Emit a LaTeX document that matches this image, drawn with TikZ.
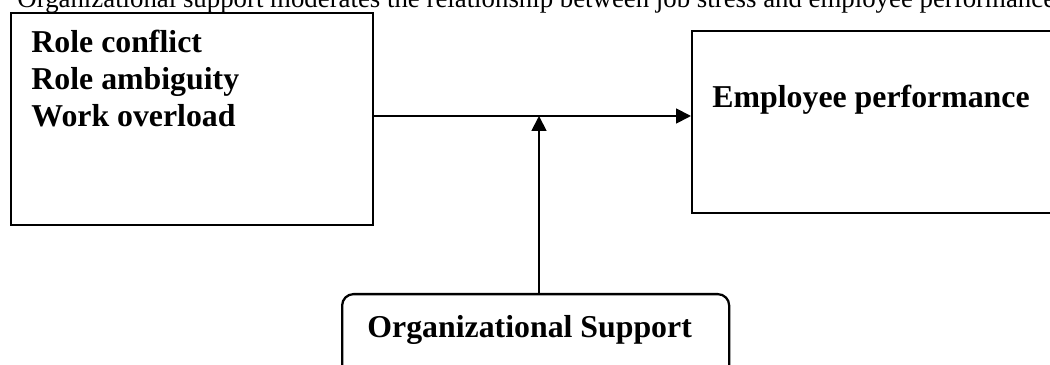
\documentclass[tikz,border=0pt]{standalone}
\usepackage{fontspec}
\setmainfont{Liberation Serif}
\usetikzlibrary{positioning, arrows.meta}

\begin{document}
\begin{tikzpicture}[
            x=0.44pt, y=-0.44pt,
            box/.style = {draw, line width=1pt, inner sep=0pt, anchor=north west},
            modbox/.style = {box, rounded corners=5pt},
            lbl/.style = {inner sep=0pt, anchor=base west, align=left,
                          font=\fontsize{14}{16.3}\selectfont\bfseries},
            line/.style = {draw, line width=0.8pt, -{Triangle[length=6.5pt, width=6.5pt]}},
            ]
            \clip (0,0) rectangle (1050,365);
            \node[inner sep=0pt, anchor=base west, font=\fontsize{11.8}{14}\selectfont] (title) at (17,8)
                {Organizational support moderates the relationship between job stress and employee performance.};

            \node[box, minimum width=159.3pt, minimum height=93.3pt] (stress) at (10,12) {};
            \node[box, minimum width=162.4pt, minimum height=80.1pt] (perf) at (691,30) {};
            \node[modbox, minimum width=170.3pt, minimum height=39.6pt] (support) at (341,293) {};

            % base anchor of a multi-line node sits on its last line
            \node[lbl] (stressTxt) at (31,127) {Role conflict\\Role ambiguity\\Work overload};
            \node[lbl] (perfTxt) at (712,108) {Employee performance};
            \node[lbl] (supportTxt) at (367,337) {Organizational Support};

            \coordinate (mid) at (539,116);
            \draw[line] (stress.east |- mid) -- (perf.west |- mid);
            \draw[line] (support.north -| mid) -- (mid);
        \end{tikzpicture}
\end{document}
